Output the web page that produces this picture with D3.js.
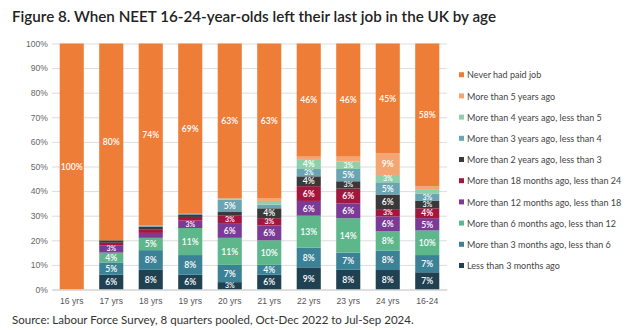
<!DOCTYPE html>
<html>
<head>
<meta charset="utf-8">
<script src="https://cdn.jsdelivr.net/npm/d3@7"></script>
<style>
  body { margin: 0; background: #fff; }
  svg { display: block; font-family: Lato, "Open Sans", sans-serif; }
</style>
</head>
<body>
<div id="chart"></div>
<script>
// Ages along the x axis
const ages = ['16 yrs', '17 yrs', '18 yrs', '19 yrs', '20 yrs', '21 yrs', '22 yrs', '23 yrs', '24 yrs', '16-24'];

// Stack order, bottom to top
const seriesNames = [
    'Less than 3 months ago',
    'More than 3 months ago, less than 6',
    'More than 6 months ago, less than 12',
    'More than 12 months ago, less than 18',
    'More than 18 months ago, less than 24',
    'More than 2 years ago, less than 3',
    'More than 3 years ago, less than 4',
    'More than 4 years ago, less than 5',
    'More than 5 years ago',
    'Never had paid job'
];
const seriesColours = ['#1f4152', '#3b8297', '#5db78b', '#7b3a95', '#a3173f', '#393939', '#6ba5b3', '#8fcfaa', '#f5a574', '#ee7d38'];

// Percent of NEETs per group, one array per series (same order as ages)
const lessThan3m   = [0, 6, 8, 6, 3, 6, 9, 8, 8, 7];
const m3to6        = [0, 5, 8, 8, 7, 4, 8, 7, 8, 7];
const m6to12       = [0, 4, 5, 11, 11, 10, 13, 14, 8, 10];
const m12to18      = [0, 3, 2, 3, 6, 6, 6, 6, 6, 5];
const m18to24      = [0, 1, 1.5, 1.5, 3, 3, 6, 6, 3, 4];
const y2to3        = [0, 1, 1, 1, 1.5, 4, 4, 3, 6, 3];
const y3to4        = [0, 0, 0.5, 0.5, 5, 1.5, 3, 5, 5, 3];
const y4to5        = [0, 0, 0, 0, 0.5, 1.5, 4, 3, 3, 1.5];
const over5y       = [0, 0, 0, 0, 0, 1, 1, 2, 9, 1.5];
const neverPaidJob = [100, 80, 74, 69, 63, 63, 46, 46, 45, 58];

const yTicks = [0, 10, 20, 30, 40, 50, 60, 70, 80, 90, 100];

const seriesValues = [lessThan3m, m3to6, m6to12, m12to18, m18to24, y2to3, y3to4, y4to5, over5y, neverPaidJob];

const rows = ages.map((age, i) => {
    const row = { age };
    seriesNames.forEach((name, s) => { row[name] = seriesValues[s][i]; });
    return row;
});

const width = 634, height = 330;
const svg = d3.select('#chart').append('svg')
    .attr('width', width)
    .attr('height', height);

const x = d3.scaleBand().domain(ages).range([52, 447]).paddingInner(0.39).paddingOuter(0.195);
const y = d3.scaleLinear().domain([0, 1]).range([289.5, 43.5]);
const colour = d3.scaleOrdinal().domain(seriesNames).range(seriesColours);

const stacked = d3.stack().keys(seriesNames).offset(d3.stackOffsetExpand)(rows);

// title
svg.append('text')
    .attr('x', 12).attr('y', 22)
    .attr('font-size', 15.2).attr('font-weight', 600)
    .attr('fill', '#222')
    .text('Figure 8. When NEET 16-24-year-olds left their last job in the UK by age');

// gridlines and y labels
const yAxis = svg.append('g').attr('transform', 'translate(447,0)')
    .call(d3.axisLeft(y).tickValues(yTicks.map(t => t / 100)).tickSize(395).tickFormat(d => Math.round(d * 100) + '%'));
yAxis.select('.domain').remove();
yAxis.selectAll('.tick line').attr('stroke', '#dcdcdc').attr('stroke-width', 1);
yAxis.selectAll('.tick text').attr('x', -399).attr('fill', '#666').attr('font-size', 8.6);

// bars
const layers = svg.append('g').selectAll('g')
    .data(stacked)
    .join('g')
    .attr('fill', d => colour(d.key));

layers.selectAll('rect')
    .data(d => d)
    .join('rect')
    .attr('x', d => x(d.data.age))
    .attr('width', x.bandwidth())
    .attr('y', d => y(d[1]))
    .attr('height', d => y(d[0]) - y(d[1]));

// value labels on segments of 3% and over; thin segments get a smaller font
const segHeight = d => y(d.p[0]) - y(d.p[1]);
layers.selectAll('text')
    .data(d => d.map(p => ({ p, key: d.key })))
    .join('text')
    .filter(d => d.p.data[d.key] >= 3)
    .attr('x', d => x(d.p.data.age) + x.bandwidth() / 2)
    .attr('y', d => (y(d.p[0]) + y(d.p[1])) / 2 + (segHeight(d) < 8 ? 2.4 : 3.2))
    .attr('text-anchor', 'middle')
    .attr('font-size', d => segHeight(d) < 8 ? 7 : 8.6)
    .attr('font-weight', 600)
    .attr('fill', '#fff')
    .text(d => d.p.data[d.key] + '%');

// x labels
const xAxis = svg.append('g').attr('transform', 'translate(0,289.5)')
    .call(d3.axisBottom(x).tickSize(0).tickPadding(8));
xAxis.select('.domain').attr('stroke', '#d0d0d0');
xAxis.selectAll('.tick text').attr('fill', '#555').attr('font-size', 8.6);

// legend, top entry first
const legend = svg.append('g').selectAll('g')
    .data(seriesNames.slice().reverse())
    .join('g')
    .attr('transform', (d, i) => `translate(459,${75.7 + i * 21.2})`);

legend.append('rect')
    .attr('x', 0).attr('y', -3.5)
    .attr('width', 5).attr('height', 5)
    .attr('fill', d => colour(d));

legend.append('text')
    .attr('x', 8).attr('y', 2.7)
    .attr('font-size', 9)
    .attr('fill', '#444')
    .text(d => d);

// source note
svg.append('text')
    .attr('x', 12).attr('y', 324)
    .attr('font-size', 11.5)
    .attr('fill', '#333')
    .text('Source: Labour Force Survey, 8 quarters pooled, Oct-Dec 2022 to Jul-Sep 2024.');
</script>
</body>
</html>
